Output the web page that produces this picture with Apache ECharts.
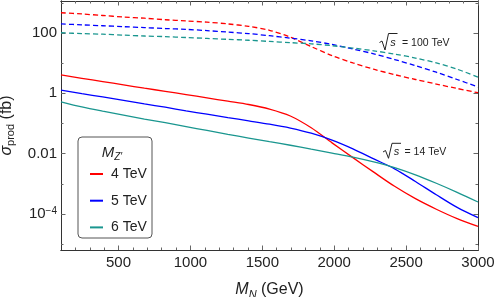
<!DOCTYPE html>
<html><head><meta charset="utf-8">
<script src="https://cdn.jsdelivr.net/npm/echarts@6/dist/echarts.min.js"></script>
<style>html,body{margin:0;padding:0;background:#fff}#c{width:498px;height:297px}</style>
</head><body><div id="c"></div>
<script>
// ---- data (sigma_prod in fb) ----
const mN = [100,245,390,535,680,825,970,1115,1260,1405,1550,1695,1840,1985,2130,2275,2420,2565,2710,2855,3000];
// sqrt(s) = 14 TeV (solid)
const sig14_MZ4 = [4.07,3.16,2.46,1.91,1.48,1.17,0.912,0.708,0.550,0.427,0.302,0.178,0.0724,0.0229,0.00741,0.00245,8.32e-4,3.24e-4,1.45e-4,7.08e-5,3.89e-5];
const sig14_MZ5 = [1.29,0.977,0.759,0.589,0.447,0.347,0.263,0.204,0.158,0.123,0.0955,0.0708,0.0479,0.0282,0.0145,0.00676,0.00316,0.00120,4.37e-4,1.66e-4,7.59e-5];
const sig14_MZ6 = [0.525,0.355,0.257,0.191,0.141,0.107,0.0794,0.0589,0.0437,0.0331,0.0251,0.0191,0.0141,0.0105,0.00776,0.00537,0.00347,0.00200,0.00105,5.25e-4,2.51e-4];
// sqrt(s) = 100 TeV (dashed)
const sig100_MZ4 = [468,427,380,339,309,275,251,229,200,166,123,72.4,35.5,17.8,10.2,6.31,4.17,2.88,2.04,1.45,1.05];
const sig100_MZ5 = [200,186,174,162,151,141,132,120,107,95.5,81.3,67.6,55.0,41.7,29.5,20.4,13.2,8.32,5.01,2.88,1.62];
const sig100_MZ6 = [102,95.5,91.2,85.1,79.4,75.9,70.8,66.1,61.7,57.5,52.5,47.9,43.7,38.0,31.6,25.7,20.0,14.8,10.2,6.31,3.47];
const seriesNames = ['4 TeV','5 TeV','6 TeV'];
// ---- ticks ----
const xMajorTicks = [500,1000,1500,2000,2500,3000];
const xMinorTicks = [200,300,400,600,700,800,900,1100,1200,1300,1400,1600,1700,1800,1900,2100,2200,2300,2400,2600,2700,2800,2900];
const yMajorExp = [-4,-2,0,2];
const yMajorLabels = ['{b|10}{sup|−4}','0.01','1','100'];
const yMinorExp = [-5,-3,-1,1,3];

const colors = ['#ff0000','#0000ff','#1a968f'];
const FONT = 'Liberation Sans, Arial, Helvetica, sans-serif';
const toLog = arr => arr.map((v,i)=>[mN[i], Math.log10(v)]);

const xMin = 100, xMax = 3000, yMin = -5.19, yMax = 3.06;
const axisLineColor = '#333', tickColor = '#666';

function xAx(pos, ticks, len, labels) {
  return {
    type:'value', position:pos, min:xMin, max:xMax, splitLine:{show:false},
    axisLine:{show:true, onZero:false, lineStyle:{color:axisLineColor, width:1}},
    axisTick:{show:true, inside:true, length:len, customValues:ticks, lineStyle:{color:tickColor}},
    axisLabel: labels ? {show:true, customValues:ticks, fontSize:15, color:'#222', fontFamily:FONT, margin:5,
      formatter: v => String(Math.round(v))} : {show:false}
  };
}
function yAx(pos, ticks, len, labels) {
  return {
    type:'value', position:pos, min:yMin, max:yMax, splitLine:{show:false},
    axisLine:{show:true, onZero:false, lineStyle:{color:axisLineColor, width:1}},
    axisTick:{show:true, inside:true, length:len, customValues:ticks, lineStyle:{color:tickColor}},
    axisLabel: labels ? {show:true, customValues:ticks, fontSize:15, color:'#222', fontFamily:FONT, margin:4,
      formatter: v => { const i = yMajorExp.indexOf(Math.round(v)); return i>=0 ? yMajorLabels[i] : ''; },
      rich:{b:{fontSize:15, fontFamily:FONT, color:'#222'}, sup:{fontSize:10, fontFamily:FONT, color:'#222', verticalAlign:'top', lineHeight:10, padding:[0,0,6,0]}}
    } : {show:false}
  };
}

const xAxes = [xAx('bottom', xMajorTicks, 4.5, true), xAx('bottom', xMinorTicks, 2.5, false),
               xAx('top', xMajorTicks, 4.5, false), xAx('top', xMinorTicks, 2.5, false)];
xAxes[0].name = '{i|M}{sub|N} (GeV)';
xAxes[0].nameLocation = 'middle';
xAxes[0].nameGap = 30;
xAxes[0].nameTextStyle = {fontSize:16, fontFamily:FONT, color:'#222', lineHeight:20,
  rich:{i:{fontSize:16, fontStyle:'italic', fontFamily:FONT, color:'#222', lineHeight:20}, sub:{fontSize:11, fontStyle:'italic', fontFamily:FONT, color:'#222', lineHeight:12, verticalAlign:'bottom'}}};
const yAxes = [yAx('left', yMajorExp, 4.5, true), yAx('left', yMinorExp, 2.5, false),
               yAx('right', yMajorExp, 4.5, false), yAx('right', yMinorExp, 2.5, false)];
yAxes[0].name = '{i|σ}{sub|prod} (fb)';
yAxes[0].nameLocation = 'middle';
yAxes[0].nameGap = 41;
yAxes[0].nameRotate = 90;
yAxes[0].nameTextStyle = {fontSize:16, fontFamily:FONT, color:'#222', lineHeight:20,
  rich:{i:{fontSize:16, fontStyle:'italic', fontFamily:FONT, color:'#222', lineHeight:20}, sub:{fontSize:11, fontFamily:FONT, color:'#222', lineHeight:12, verticalAlign:'bottom'}}};

function line(name, data, color, dashed) {
  return {type:'line', name:name, data:toLog(data), xAxisIndex:0, yAxisIndex:0, showSymbol:false,
    smooth:0.3,
    silent:true, lineStyle:{color:color, width:1.3, type: dashed ? [5,3] : 'solid'}, itemStyle:{color:color}, z:3};
}

const chart = echarts.init(document.getElementById('c'), null, {renderer:'canvas'});
chart.setOption({
  animation:false,
  grid:{left:61, right:20, top:1, bottom:47, containLabel:false, outerBoundsMode:'none'},
  xAxis:xAxes, yAxis:yAxes,
  legend:{data:seriesNames, orient:'vertical', left:85, top:162, itemWidth:13, itemHeight:2, icon:'rect', itemGap:12.7,
    textStyle:{fontSize:14, fontFamily:FONT, color:'#222', lineHeight:14, padding:[0,0,0,3]}, selectedMode:false},
  graphic:[
    {type:'rect', shape:{x:78, y:137, width:74, height:101, r:4}, style:{fill:'#fff', stroke:'#555', lineWidth:1}, z:1},
    {type:'text', x:112, y:153, style:{text:'{m|M}{s|Z′}', align:'center', verticalAlign:'middle',
      rich:{m:{fontSize:15, fontStyle:'italic', fontFamily:FONT, fill:'#222', lineHeight:18}, s:{fontSize:10, fontStyle:'italic', fontFamily:FONT, fill:'#222', lineHeight:10, verticalAlign:'bottom'}}}, z:2},
    // sqrt(s) = 100 TeV
    {type:'polyline', shape:{points:[[379.5,42.5],[382,41],[385,50],[388.5,33.5],[397.5,33.5]]}, style:{stroke:'#222', lineWidth:1, fill:null}, z:5},
    {type:'text', x:393, y:43, style:{text:'s', fontSize:11, fontStyle:'italic', fontFamily:FONT, fill:'#222', align:'center', verticalAlign:'middle'}, z:5},
    {type:'text', x:402, y:43.5, style:{text:'= 100 TeV', fontSize:10.5, fontFamily:FONT, fill:'#222', align:'left', verticalAlign:'middle'}, z:5},
    // sqrt(s) = 14 TeV
    {type:'polyline', shape:{points:[[383,152],[385.5,150.5],[388.5,158.3],[392,143.3],[401,143.3]]}, style:{stroke:'#222', lineWidth:1, fill:null}, z:5},
    {type:'text', x:396.5, y:152, style:{text:'s', fontSize:11, fontStyle:'italic', fontFamily:FONT, fill:'#222', align:'center', verticalAlign:'middle'}, z:5},
    {type:'text', x:404.5, y:152, style:{text:'= 14 TeV', fontSize:10.5, fontFamily:FONT, fill:'#222', align:'left', verticalAlign:'middle'}, z:5}
  ],
  series:[
    line(seriesNames[0], sig14_MZ4, colors[0], false),
    line(seriesNames[1], sig14_MZ5, colors[1], false),
    line(seriesNames[2], sig14_MZ6, colors[2], false),
    line('4 TeV (100 TeV)', sig100_MZ4, colors[0], true),
    line('5 TeV (100 TeV)', sig100_MZ5, colors[1], true),
    line('6 TeV (100 TeV)', sig100_MZ6, colors[2], true)
  ]
});
</script>
</body></html>
